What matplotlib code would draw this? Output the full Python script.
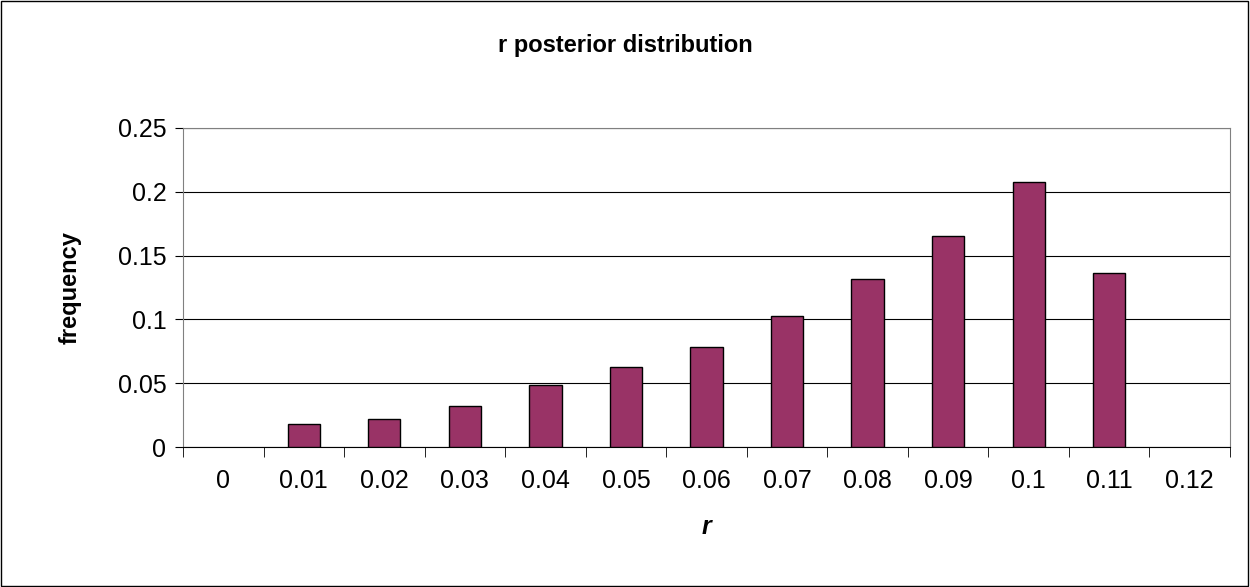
import matplotlib
matplotlib.use("Agg")
import matplotlib.pyplot as plt
from matplotlib.patches import Rectangle

categories = ["0", "0.01", "0.02", "0.03", "0.04", "0.05", "0.06", "0.07", "0.08", "0.09", "0.1", "0.11", "0.12"]
values = [0, 0.018, 0.022, 0.032, 0.0486, 0.0627, 0.078, 0.103, 0.132, 0.165, 0.208, 0.136, 0]
yticks = [0, 0.05, 0.1, 0.15, 0.2, 0.25]
ytick_labels = ["0", "0.05", "0.1", "0.15", "0.2", "0.25"]

plt.rcParams['font.family'] = ['Liberation Sans', 'DejaVu Sans']
fig = plt.figure(figsize=(12.5, 5.87), dpi=100)
fig.patches.append(Rectangle((0.001, 0.002), 0.997, 0.996, transform=fig.transFigure,
                             fill=False, edgecolor='black', linewidth=1))
ax = fig.add_axes([0.1464, 0.2385, 0.8376, 0.5435])
x = list(range(len(categories)))
ax.bar(x, values, width=0.40, color='#993366',
       edgecolor=['black' if v > 0 else 'none' for v in values], linewidth=1, zorder=3)
ax.set_xlim(-0.5, len(categories) - 0.5)
ax.set_ylim(0, 0.25)
ax.set_yticks(yticks)
ax.set_yticklabels(ytick_labels, fontsize=18)
ax.yaxis.grid(True, color='black', linewidth=0.8, zorder=0)
ax.set_xticks(x)
ax.set_xticklabels(categories, fontsize=18)
ax.tick_params(axis='x', length=0, pad=16)
ax.set_xticks([i - 0.5 for i in range(len(categories) + 1)], minor=True)
ax.tick_params(axis='x', which='minor', length=7, direction='out')
ax.tick_params(axis='y', length=6, direction='out', pad=6)
for s in ['top', 'right', 'left']:
    ax.spines[s].set_color('#808080')
ax.spines['bottom'].set_color('black')
ax.set_xlabel("r", fontsize=18, fontweight='bold', style='italic', labelpad=16)
ax.set_ylabel("frequency", fontsize=17, fontweight='bold', labelpad=26)
fig.text(0.5, 0.922, "r posterior distribution", ha='center', va='center', fontsize=17, fontweight='bold')
fig.savefig("out.png", dpi=100)
